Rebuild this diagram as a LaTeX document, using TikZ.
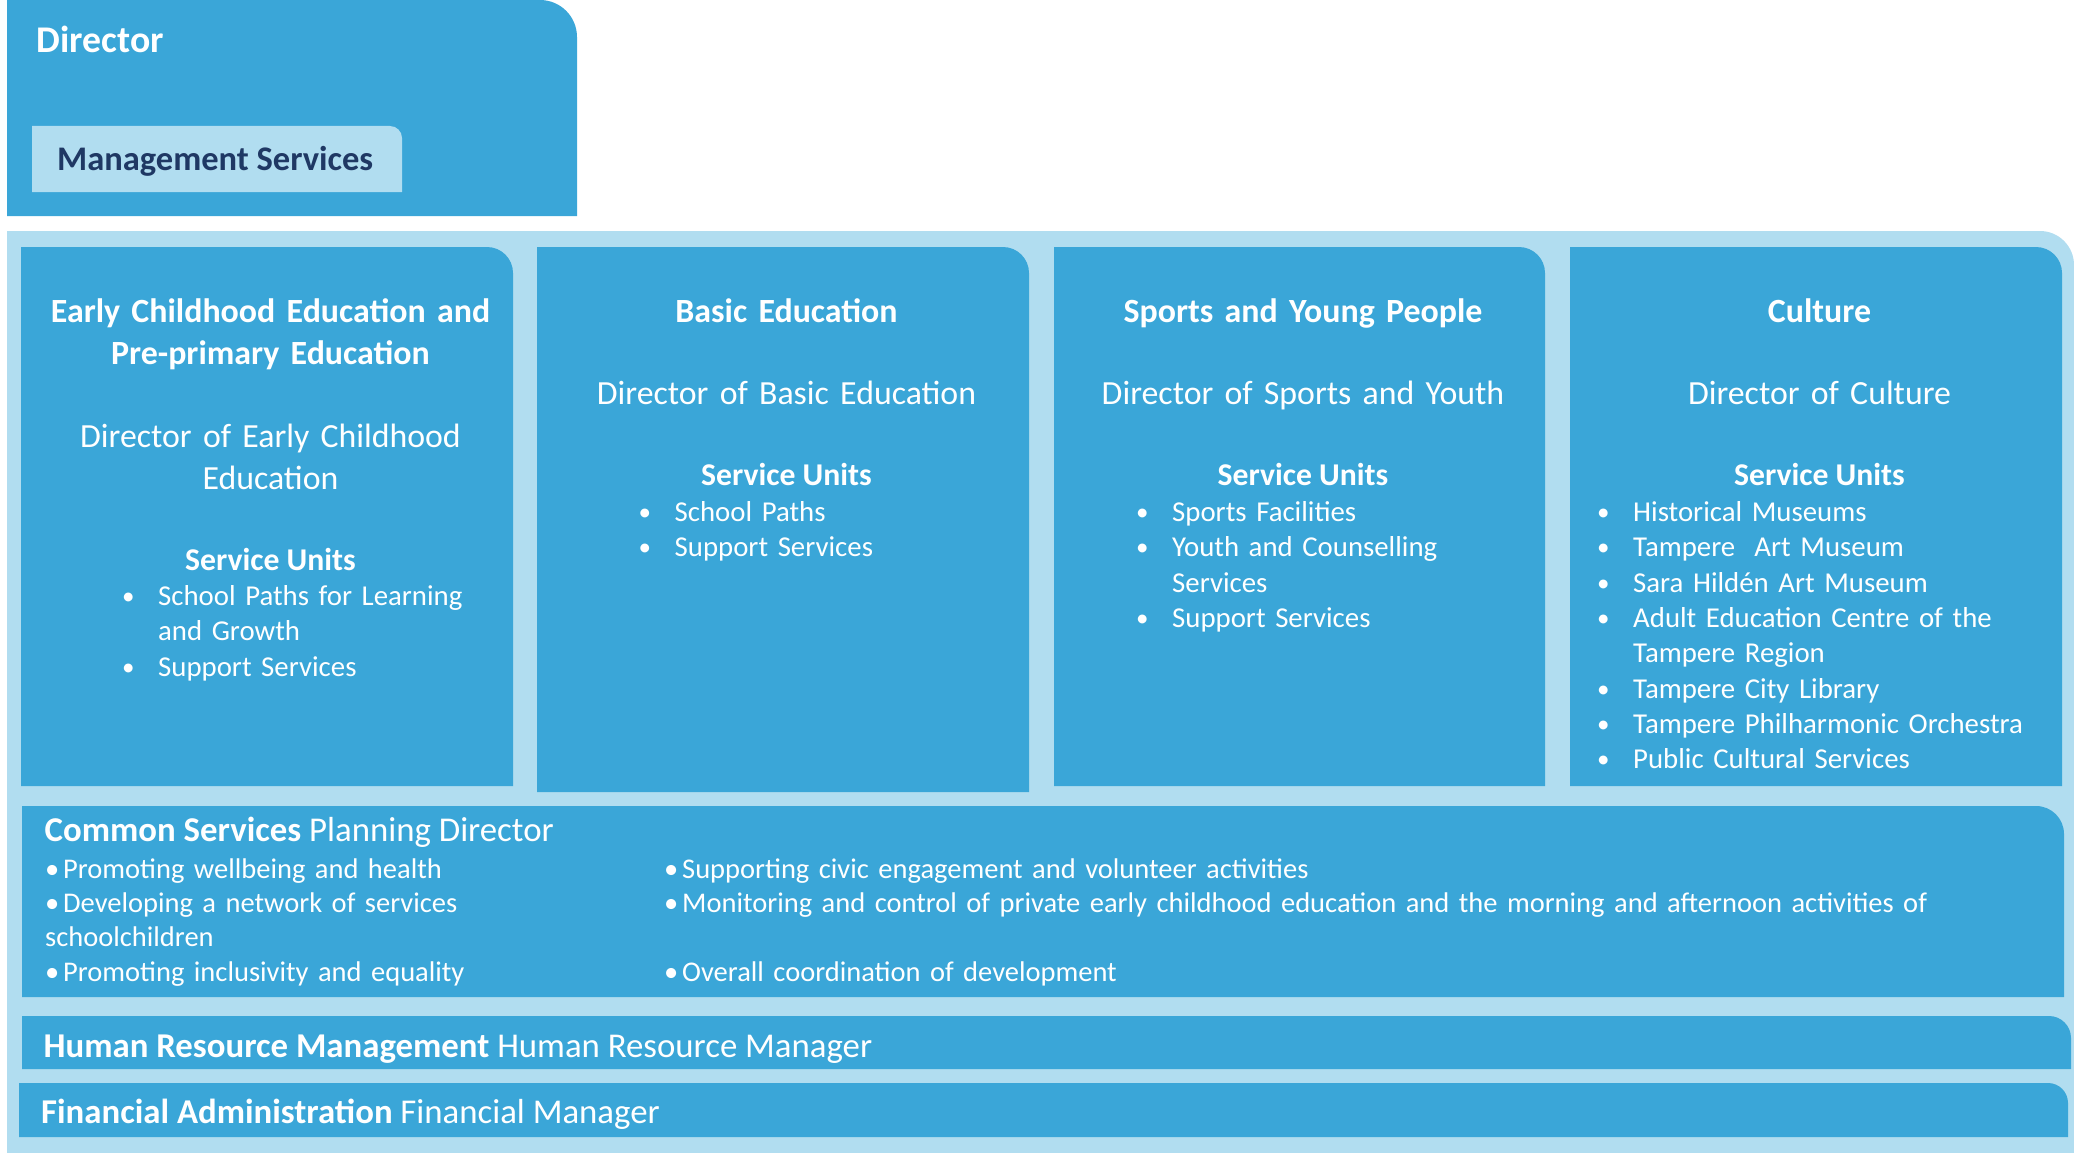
\documentclass[tikz,border=0pt]{standalone}
\usepackage{fontspec}
\setmainfont{Carlito}
\definecolor{deptblue}{HTML}{3AA6D8}
\definecolor{paleblue}{HTML}{B1DDF0}
\definecolor{navytext}{HTML}{1F3864}
% fill a panel node, rounding only its top right corner
\newcommand\tabfill[3]{%
  \fill[#3] (#1.south west) -- (#1.north west) -- ([xshift=-#2]#1.north east)
    arc[start angle=90,end angle=0,radius=#2] -- (#1.south east) -- cycle;}
\newcommand\ub{\makebox[36pt][l]{\raisebox{1pt}{\fontsize{25}{25}\selectfont\textbullet}}}
\newcommand\cb{\makebox[18pt][l]{\textbullet}}

\begin{document}
\begin{tikzpicture}[
  x=1pt, y=1pt,
  panel/.style={inner sep=0pt, outer sep=0pt, anchor=north west},
  lbl/.style={inner sep=0pt, text=white, anchor=base},
  unithead/.style={lbl, font=\bfseries\fontsize{33.9}{42.5}\selectfont, align=center, text width=480pt},
  unitlead/.style={lbl, font=\fontsize{33.8}{42}\selectfont, align=center, text width=480pt},
  subhead/.style={lbl, font=\bfseries\fontsize{31.7}{35.5}\selectfont},
  unitlist/.style={lbl, anchor=base west, font=\fontsize{28.8}{35.3}\selectfont, align=left, text width=470pt},
  bandtext/.style={lbl, anchor=base west, font=\fontsize{34.8}{42}\selectfont},
  bandlist/.style={lbl, anchor=base west, font=\fontsize{28.5}{34.4}\selectfont, align=left}
]
\useasboundingbox (0,0) rectangle (2074,-1153);

% panels
\node[panel, minimum width=2067pt, minimum height=922pt] (frame) at (7,-231) {};
\node[panel, minimum width=570pt, minimum height=216pt] (director) at (7,0) {};
\node[panel, minimum width=370pt, minimum height=66pt] (mgmt) at (32,-126) {};
\node[panel, minimum width=492pt, minimum height=539pt] (early) at (21,-247) {};
\node[panel, minimum width=492pt, minimum height=545pt] (basic) at (537,-247) {};
\node[panel, minimum width=491pt, minimum height=539pt] (sports) at (1054,-247) {};
\node[panel, minimum width=492pt, minimum height=539pt] (culture) at (1570,-247) {};
\node[panel, minimum width=2042pt, minimum height=191pt] (common) at (22,-806) {};
\node[panel, minimum width=2049pt, minimum height=53pt] (hrm) at (22,-1016) {};
\node[panel, minimum width=2049pt, minimum height=54pt] (finance) at (19,-1083) {};

\tabfill{frame}{34pt}{paleblue}
\tabfill{director}{37pt}{deptblue}
\tabfill{mgmt}{12pt}{paleblue}
\tabfill{early}{26pt}{deptblue}
\tabfill{basic}{26pt}{deptblue}
\tabfill{sports}{26pt}{deptblue}
\tabfill{culture}{26pt}{deptblue}
\tabfill{common}{28pt}{deptblue}
\tabfill{hrm}{22pt}{deptblue}
\tabfill{finance}{20pt}{deptblue}

% top
\node[bandtext, font=\bfseries\fontsize{37.7}{42}\selectfont] (dirname) at (36.5,-53) {Director};
\node[bandtext, text=navytext, font=\bfseries\fontsize{34.5}{42}\selectfont] (mgmtname) at (57,-170) {Management Services};

% early childhood
\node[unithead] (earlyname) at (270.5,-322) {Early Childhood Education and\\Pre-primary Education};
\node[unitlead] (earlyhead) at (270.5,-447) {Director of Early Childhood\\Education};
\node[subhead] (earlysu) at (270.5,-570) {Service Units};
\node[unitlist] (earlyunits) at (122,-605.5) {\ub School Paths for Learning\\\hspace*{36pt}and Growth\\\ub Support Services};

% basic education
\node[unithead] (basicname) at (786.5,-322) {Basic Education};
\node[unitlead] (basichead) at (786.5,-404.5) {Director of Basic Education};
\node[subhead] (basicsu) at (786.5,-485.5) {Service Units};
\node[unitlist] (basicunits) at (638.5,-521.5) {\ub School Paths\\\ub Support Services};

% sports
\node[unithead] (sportsname) at (1303,-322) {Sports and Young People};
\node[unitlead] (sportshead) at (1303,-404.5) {Director of Sports and Youth};
\node[subhead] (sportssu) at (1303,-485.5) {Service Units};
\node[unitlist] (sportsunits) at (1136,-521.5) {\ub Sports Facilities\\\ub Youth and Counselling\\\hspace*{36pt}Services\\\ub Support Services};

% culture
\node[unithead] (culturename) at (1819.5,-322) {Culture};
\node[unitlead] (culturehead) at (1819.5,-404.5) {Director of Culture};
\node[subhead] (culturesu) at (1819.5,-485.5) {Service Units};
\node[unitlist] (cultureunits) at (1597,-521.5) {\ub Historical Museums\\\ub Tampere~~Art Museum\\\ub Sara Hildén Art Museum\\\ub Adult Education Centre of the\\\hspace*{36pt}Tampere Region\\\ub Tampere City Library\\\ub Tampere Philharmonic Orchestra\\\ub Public Cultural Services};

% bands
\node[bandtext] (commonname) at (44.5,-841) {\textbf{Common Services} Planning Director};
\node[bandlist, text width=560pt] (commonleft) at (45,-878) {\cb Promoting wellbeing and health\\\cb Developing a network of services\\schoolchildren\\\cb Promoting inclusivity and equality};
\node[bandlist, text width=1360pt] (commonright) at (664,-878) {\cb Supporting civic engagement and volunteer activities\\\cb Monitoring and control of private early childhood education and the morning and afternoon activities of\\[34.4pt]\cb Overall coordination of development};
\node[bandtext] (hrmname) at (43.5,-1057) {\textbf{Human Resource Management} Human Resource Manager};
\node[bandtext] (financename) at (41,-1123.5) {\textbf{Financial Administration} Financial Manager};
\end{tikzpicture}
\end{document}
